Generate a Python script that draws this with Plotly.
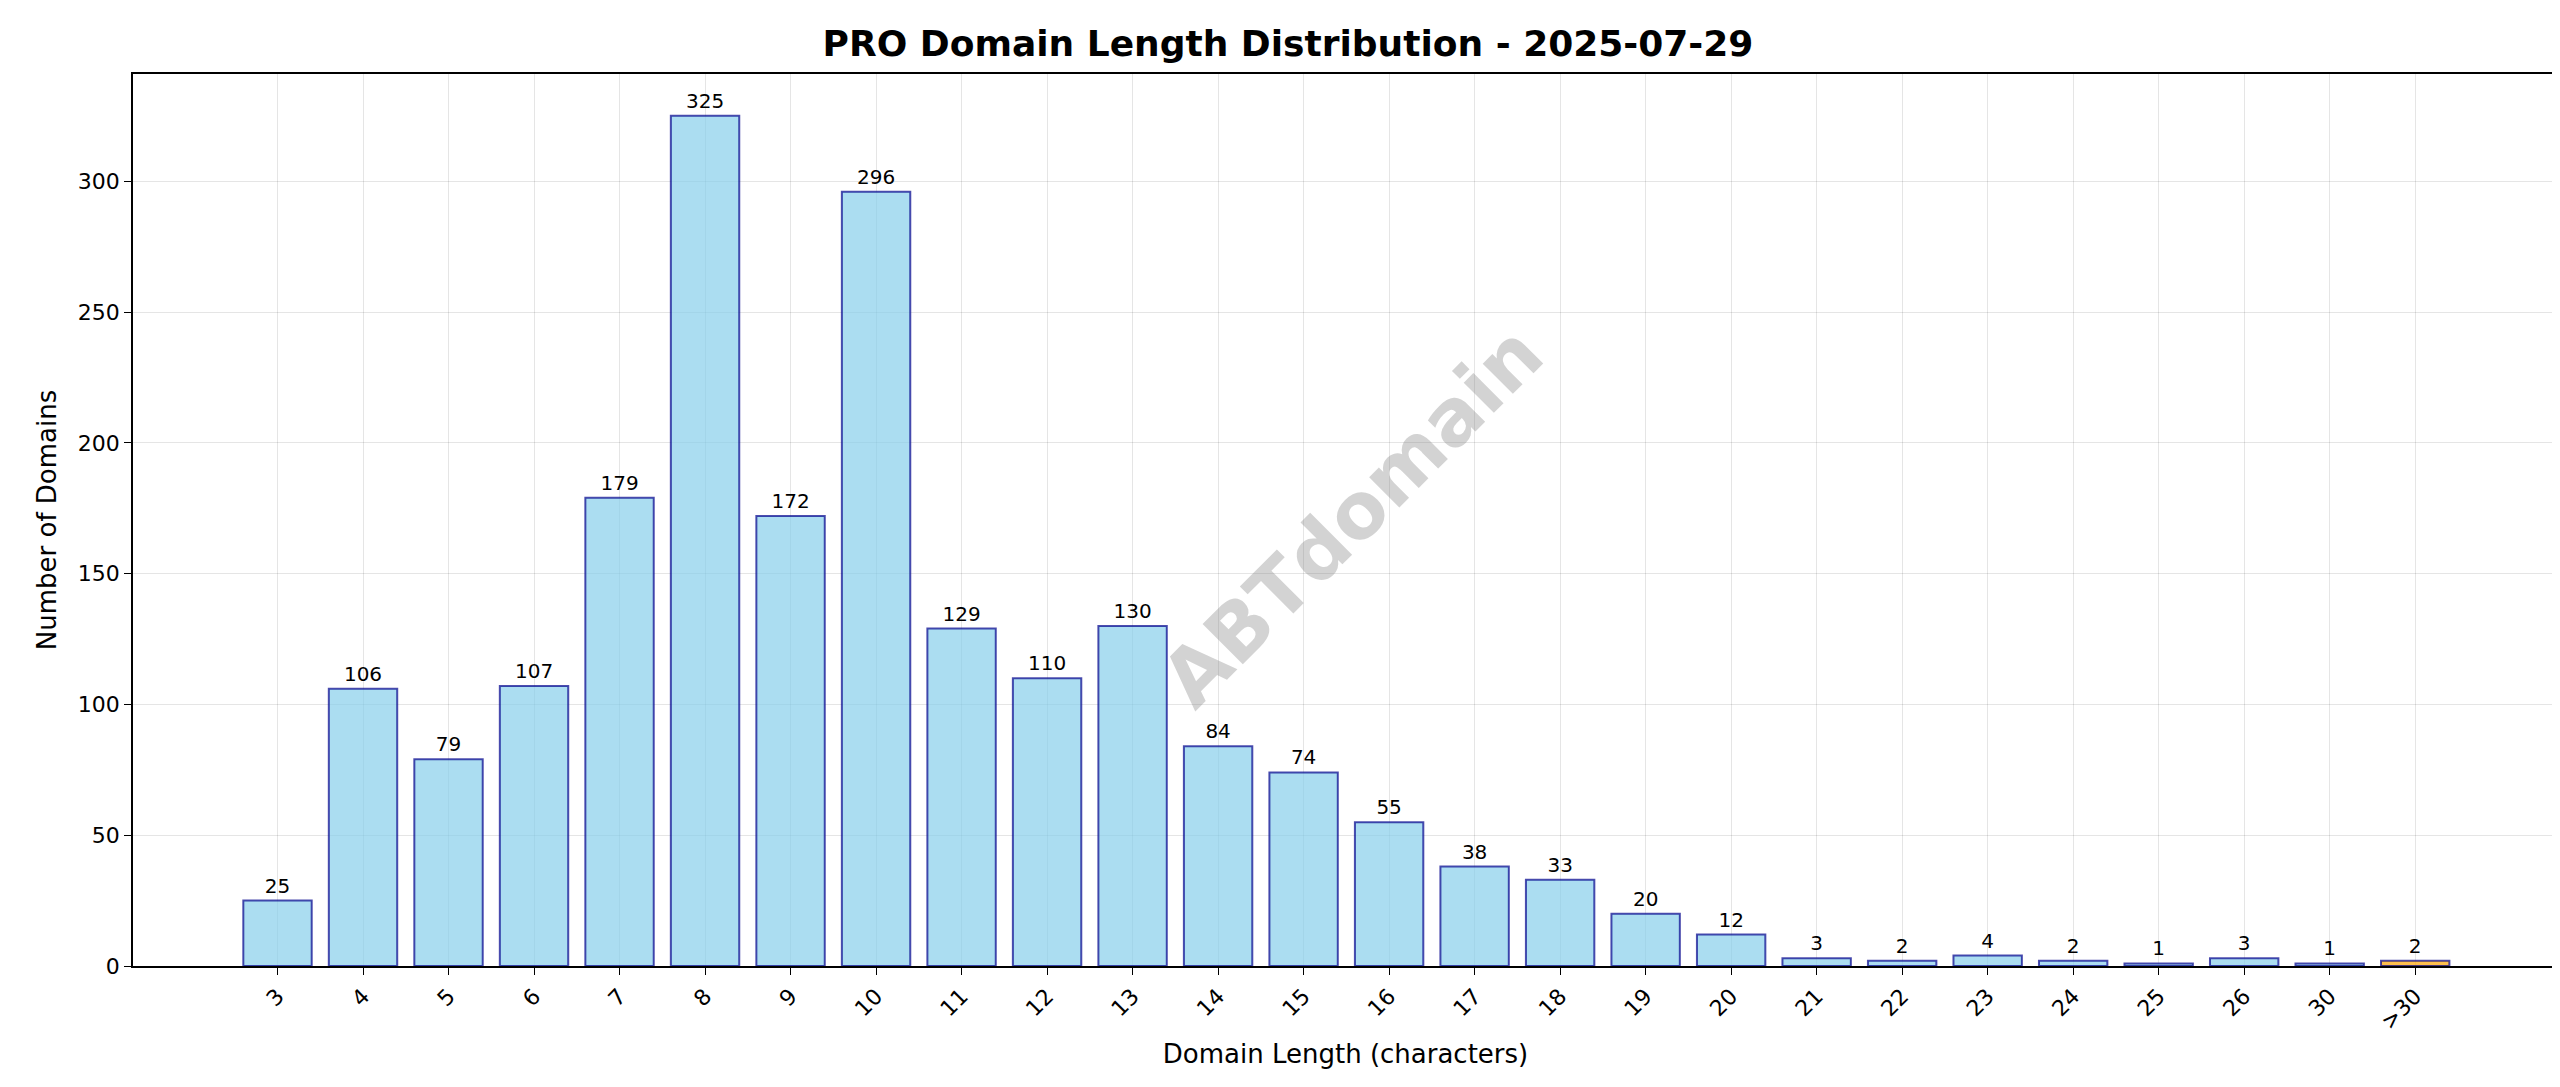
import plotly.graph_objects as go

lengths = ["3", "4", "5", "6", "7", "8", "9", "10", "11", "12", "13", "14", "15", "16",
           "17", "18", "19", "20", "21", "22", "23", "24", "25", "26", "30", ">30"]
counts = [25, 106, 79, 107, 179, 325, 172, 296, 129, 110, 130, 84, 74, 55,
          38, 33, 20, 12, 3, 2, 4, 2, 1, 3, 1, 2]

FONT = "DejaVu Sans"
colors = ["rgba(135,206,235,0.7)"] * (len(lengths) - 1) + ["rgba(255,165,0,0.7)"]

fig = go.Figure()
fig.add_trace(go.Bar(
    x=lengths, y=counts, width=0.8,
    marker=dict(color=colors, line=dict(color="rgba(0,0,139,0.7)", width=2)),
    text=[str(c) for c in counts], textposition="outside",
    textfont=dict(family=FONT, size=20, color="black"), cliponaxis=False,
))

fig.update_layout(
    width=2560, height=1087,
    paper_bgcolor="white", plot_bgcolor="white",
    margin=dict(l=125, r=8, t=66, b=129),
    showlegend=False,
    title=dict(text="<b>PRO Domain Length Distribution - 2025-07-29</b>", x=0.5, xanchor="center",
               y=0.967, yanchor="middle", font=dict(family=FONT, size=36, color="black")),
    font=dict(family=FONT, color="black"),
)
fig.update_xaxes(
    type="category", range=[-1.69, 26.67], tickangle=-45,
    tickfont=dict(size=22), ticks="outside", ticklen=7, tickcolor="black",
    showgrid=True, gridcolor="rgba(0,0,0,0.1)", gridwidth=1,
    showline=True, linecolor="black", linewidth=1.5, mirror=True,
    title=dict(text="Domain Length (characters)", font=dict(size=26), standoff=12),
)
fig.update_yaxes(
    range=[0, 341], dtick=50, tickfont=dict(size=22), ticks="outside", ticklen=7, tickcolor="black",
    showgrid=True, gridcolor="rgba(0,0,0,0.1)", gridwidth=1, zeroline=False,
    showline=True, linecolor="black", linewidth=1.5, mirror=True,
    title=dict(text="Number of Domains", font=dict(size=26), standoff=14),
)
fig.add_annotation(
    text="<b>ABTdomain</b>", xref="paper", yref="paper", x=0.503, y=0.504,
    showarrow=False, textangle=-45,
    font=dict(family=FONT, size=78, color="rgba(128,128,128,0.35)"),
)

fig.write_html("out.html")
